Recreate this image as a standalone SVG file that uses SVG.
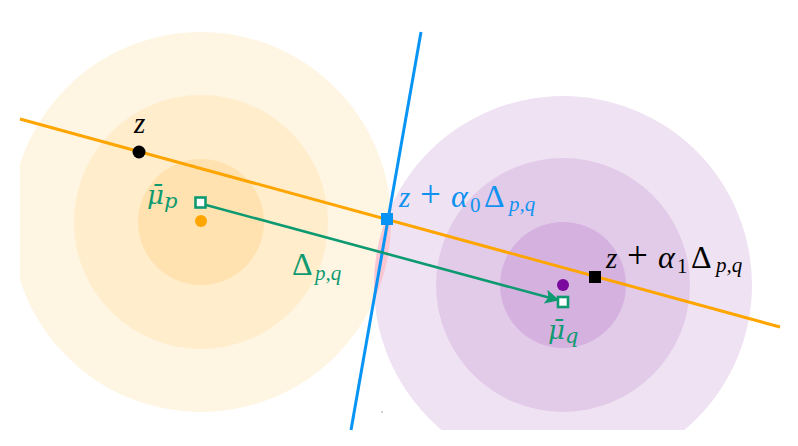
<svg xmlns="http://www.w3.org/2000/svg" width="798" height="446" viewBox="0 0 798 446">
<style>
.lbl{font-family:"Liberation Serif","DejaVu Serif",serif;font-style:italic;font-size:29px}
.mu{font-family:"DejaVu Serif","Liberation Serif",serif;font-style:italic;font-size:26px}
.up{font-style:normal}
.plus{font-style:normal;font-size:37px}
.alpha{font-size:32px}
.big{font-style:normal;font-size:32px}
.sub{font-size:21px}
.green{fill:#0E9A70}
.blue{fill:#1192F0}
.black{fill:#000}
</style>
<defs>
<clipPath id="frame"><rect x="20" y="0" width="760" height="430"/></clipPath>
<clipPath id="leftOuter"><circle cx="201" cy="222" r="190"/></clipPath>
<marker id="arrow" viewBox="0 0 10 10" refX="9" refY="5" markerWidth="5.5" markerHeight="5.5" orient="auto" markerUnits="strokeWidth">
<path d="M0,0 L10,5 L0,10 L2,5 Z" fill="#0E9A70"/>
</marker>
</defs>
<rect width="798" height="446" fill="#fff"/>
<g clip-path="url(#frame)">
<g id="gaussian-p">
<circle cx="201" cy="222" r="190" fill="#FFF5E3"/>
<circle cx="201" cy="222" r="127" fill="#FFEDCC"/>
<circle cx="201" cy="222" r="63" fill="#FFE2AF"/>
</g>
<g id="gaussian-q">
<circle cx="563" cy="285" r="189" fill="#EFE2F3"/>
<circle cx="563" cy="285" r="127" fill="#E2CBE9"/>
<circle cx="563" cy="285" r="63" fill="#D5B1E0"/>
</g>
<g id="overlap">
<circle cx="563" cy="285" r="189" fill="#FAC6D2" clip-path="url(#leftOuter)"/>
</g>
</g>
<circle cx="382" cy="412" r="0.8" fill="#999"/>
<g id="connectors" fill="none">
<line x1="20" y1="119" x2="780" y2="327" stroke="#FFA500" stroke-width="3"/>
<line x1="421" y1="32" x2="351" y2="430" stroke="#0894F5" stroke-width="3"/>
<line x1="206" y1="205" x2="558" y2="300" stroke="#0E9A70" stroke-width="2.6" marker-end="url(#arrow)"/>
</g>
<g id="mean-p">
<circle cx="201" cy="221" r="6" fill="#FFA500"/>
<rect x="195.5" y="197.5" width="10" height="10" fill="#fff" stroke="#0E9A70" stroke-width="2.6"/>
</g>
<g id="mean-q">
<circle cx="563" cy="285" r="6" fill="#7A0A9E"/>
<rect x="558" y="297" width="10" height="10" fill="#fff" stroke="#0E9A70" stroke-width="2.6"/>
</g>
<g id="point-z">
<circle cx="139" cy="152" r="6.5" fill="#000"/>
</g>
<g id="point-alpha0">
<rect x="381" y="213" width="12" height="12" fill="#0894F5"/>
</g>
<g id="point-alpha1">
<rect x="589" y="271" width="12" height="12" fill="#000"/>
</g>
<g id="labels">
<text class="lbl black" x="134" y="133">z</text>
<text class="mu green" x="147" y="204">μ̄<tspan class="sub" x="164" y="208">p</tspan></text>
<text class="lbl green" x="292" y="275"><tspan class="big">Δ</tspan><tspan class="sub" x="315" y="280">p,q</tspan></text>
<text class="lbl blue" x="399" y="207">z<tspan class="plus" x="420">+</tspan><tspan class="alpha" x="451">α</tspan><tspan class="sub up" x="470" y="212">0</tspan><tspan class="big" x="484" y="207">Δ</tspan><tspan class="sub" x="509" y="211">p,q</tspan></text>
<text class="lbl black" x="606" y="268">z<tspan class="plus" x="627">+</tspan><tspan class="alpha" x="658">α</tspan><tspan class="sub up" x="677" y="273">1</tspan><tspan class="big" x="691" y="268">Δ</tspan><tspan class="sub" x="716" y="272">p,q</tspan></text>
<text class="mu green" x="548" y="339">μ̄<tspan class="sub" x="565" y="343">q</tspan></text>
</g>
</svg>
